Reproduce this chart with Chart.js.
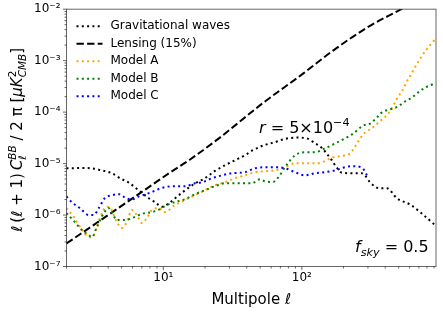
<!DOCTYPE html>
<html>
<head>
<meta charset="utf-8">
<script src="https://cdn.jsdelivr.net/npm/chart.js@4.4.1/dist/chart.umd.min.js"></script>
<style>
    body { margin: 0; background: white; }
    canvas { display: block; }
</style>
</head>
<body>
<canvas id="bbChart" width="443" height="312"></canvas>
<script>
// values (D_ell^BB in muK^2)
const ellGW = [2, 2.6, 3.05, 3.42, 4.25, 4.85, 5.6, 6.66, 7.9, 8.7, 9.8, 11, 12.1, 14.3, 16.9, 20, 23.6, 27.9, 32.9, 38.8, 44, 54, 64, 75, 92, 110, 124, 140, 150, 165, 178, 195, 230, 270, 290, 311, 367, 412, 487, 605, 714, 916];
const dlGW = [8.1e-6, 8.2e-6, 8.1e-6, 7.6e-6, 6.5e-6, 5.2e-6, 4.3e-6, 3.0e-6, 2.1e-6, 1.78e-6, 1.45e-6, 1.7e-6, 2.1e-6, 3.0e-6, 4.1e-6, 5.2e-6, 7.2e-6, 9.3e-6, 1.16e-5, 1.45e-5, 1.8e-5, 2.3e-5, 2.6e-5, 3.0e-5, 3.2e-5, 3.05e-5, 2.5e-5, 2.0e-5, 1.6e-5, 1.15e-5, 8.5e-6, 6.6e-6, 6.5e-6, 6.5e-6, 5.6e-6, 4.3e-6, 3.3e-6, 3.3e-6, 2.1e-6, 1.6e-6, 1.14e-6, 6.4e-7];

const ellLens = [2, 4, 8, 11, 15.6, 25.6, 52, 102, 168, 296, 495, 930];
const dlLens = [2.8e-7, 1.0e-6, 3.6e-6, 6.5e-6, 1.2e-5, 3.2e-5, 1.48e-4, 5.6e-4, 1.57e-3, 4.4e-3, 9.3e-3, 2.3e-2];

const ellA = [2, 2.26, 2.45, 2.67, 2.9, 3.15, 3.48, 3.91, 4.25, 4.47, 4.77, 5.02, 5.45, 5.93, 6.44, 7.0, 7.6, 8.26, 9.29, 10.26, 12.1, 14.3, 16.9, 20, 23.6, 27.9, 32.9, 38.8, 45.9, 54.2, 64, 75.5, 89.3, 105, 129, 168, 189, 223, 251, 277, 327, 367, 412, 448, 487, 530, 575, 625, 680, 740, 802, 887, 916];
const dlA = [1.36e-6, 9.1e-7, 6.4e-7, 4.7e-7, 3.7e-7, 4.1e-7, 8.7e-7, 1.45e-6, 1.25e-6, 8.7e-7, 6.4e-7, 5.6e-7, 7.3e-7, 1.25e-6, 1.0e-6, 7.0e-7, 8.7e-7, 1.25e-6, 1.36e-6, 1.14e-6, 1.56e-6, 1.95e-6, 2.43e-6, 3.04e-6, 3.8e-6, 4.34e-6, 5.2e-6, 5.9e-6, 6.8e-6, 7.1e-6, 7.4e-6, 8.5e-6, 1.01e-5, 1.01e-5, 1.01e-5, 1.33e-5, 1.39e-5, 1.58e-5, 2.5e-5, 3.7e-5, 5.1e-5, 6.7e-5, 8.8e-5, 1.2e-4, 1.85e-4, 2.6e-4, 4.0e-4, 5.9e-4, 8.8e-4, 1.26e-3, 1.7e-3, 2.35e-3, 2.65e-3];

const ellB = [2, 2.3, 2.58, 2.9, 3.05, 3.31, 3.72, 4.04, 4.25, 4.62, 5.27, 5.93, 6.66, 7.36, 8.26, 9.77, 10.3, 12.1, 14.3, 16.9, 20, 23.6, 27.9, 32.9, 38.8, 43.6, 49.9, 54.2, 61.9, 68, 75.5, 89.3, 105, 124, 147, 174, 205, 236, 277, 311, 349, 379, 434, 495, 556, 625, 691, 776, 902, 916];
const dlB = [1.09e-6, 7.3e-7, 5.1e-7, 4.1e-7, 3.7e-7, 5.8e-7, 1.09e-6, 1.36e-6, 1.14e-6, 8.0e-7, 8.0e-7, 8.7e-7, 1.0e-6, 1.09e-6, 1.14e-6, 1.36e-6, 1.5e-6, 1.78e-6, 2.03e-6, 2.54e-6, 3.04e-6, 3.63e-6, 4.15e-6, 4.15e-6, 4.15e-6, 4.15e-6, 4.97e-6, 4.5e-6, 4.4e-6, 5.5e-6, 8.5e-6, 1.45e-5, 1.66e-5, 1.66e-5, 1.98e-5, 2.47e-5, 3.09e-5, 3.86e-5, 5.5e-5, 6.0e-5, 7.9e-5, 9.9e-5, 1.13e-4, 1.29e-4, 1.61e-4, 1.93e-4, 2.41e-4, 3.0e-4, 3.6e-4, 3.7e-4];

const ellC = [2, 2.18, 2.5, 2.9, 3.15, 3.42, 3.78, 4.25, 4.85, 5.27, 5.9, 6.66, 7.36, 8.26, 9.3, 10.3, 12.1, 14.3, 16.9, 19, 22.5, 26.5, 31.3, 38.8, 45.9, 54.2, 64, 75.5, 89.3, 105, 124, 147, 174, 205, 231, 272, 296];
const dlC = [2.3e-6, 1.78e-6, 1.36e-6, 1.0e-6, 1.0e-6, 1.36e-6, 2.13e-6, 2.43e-6, 2.54e-6, 2.2e-6, 2.0e-6, 2.3e-6, 2.5e-6, 2.8e-6, 3.2e-6, 3.5e-6, 3.63e-6, 3.63e-6, 4.15e-6, 4.34e-6, 5.2e-6, 5.9e-6, 6.5e-6, 6.8e-6, 8.1e-6, 8.5e-6, 8.5e-6, 8.1e-6, 6.8e-6, 5.9e-6, 6.5e-6, 6.8e-6, 7.4e-6, 8.5e-6, 8.9e-6, 8.3e-6, 5.9e-6];

const seriesNames = ['Gravitational waves', 'Lensing (15%)', 'Model A', 'Model B', 'Model C'];

const yTickVals = [1e-7, 1e-6, 1e-5, 1e-4, 1e-3, 1e-2];
const yTickLabels = ['10⁻⁷', '10⁻⁶', '10⁻⁵', '10⁻⁴', '10⁻³', '10⁻²'];
const xTickVals = [10, 100];
const xTickLabels = ['10¹', '10²'];

const FONT = '"DejaVu Sans"';
const dotted = [2, 3.3];
const dashed = [7.4, 3.2];

function toPoints(ell, vals) {
    return ell.map((l, i) => ({ x: l, y: vals[i] }));
}

// majors + the 2..9 minors of each decade that fall in [lo, hi]
function logTicks(lo, hi, majors) {
    let ticks = [];
    for (let k = -8; k <= 3; k++) {
        for (let d = 1; d <= 9; d++) {
            let v = d === 1 ? Math.pow(10, k) : d * Math.pow(10, k);
            if (d === 1) {
                const m = majors.find(mv => Math.abs(Math.log10(mv) - k) < 1e-9);
                if (m !== undefined) v = m;
            }
            if (v >= lo * 0.999 && v <= hi * 1.001) ticks.push({ value: v, major: d === 1 });
        }
    }
    return ticks;
}

function lineSet(i, ell, vals, color, dash, order) {
    return {
        label: seriesNames[i],
        data: toPoints(ell, vals),
        borderColor: color,
        backgroundColor: color,
        borderWidth: 2,
        borderDash: dash,
        borderCapStyle: 'butt',
        pointRadius: 0,
        showLine: true,
        cubicInterpolationMode: 'monotone',
        order: order
    };
}

// small mathtext-like writer: sub/superscripts, italics, stacked sub+sup
function writeMath(ctx, parts, x, y, size, draw) {
    let cx = x, stackW = 0;
    parts.forEach(p => {
        const fs = p.pos ? size * 0.7 : size;
        ctx.font = (p.it ? 'italic ' : '') + fs + 'px ' + FONT;
        const w = ctx.measureText(p.t).width;
        const dy = p.pos === 1 ? -size * 0.42 : (p.pos === -1 ? size * 0.24 : 0);
        if (draw) ctx.fillText(p.t, cx, y + dy);
        if (p.stack) { stackW = w; return; }
        cx += stackW ? Math.max(w, stackW) : w;
        stackW = 0;
    });
    return cx - x;
}

const yTitle = [
    { t: 'ℓ', it: 1 }, { t: '\u2009(' }, { t: 'ℓ', it: 1 }, { t: ' + 1)\u2009' },
    { t: 'C', it: 1 }, { t: 'BB', it: 1, pos: 1, stack: 1 }, { t: 'ℓ', it: 1, pos: -1 },
    { t: ' / 2 π [' }, { t: 'μK', it: 1 }, { t: '2', pos: 1, stack: 1 }, { t: 'CMB', it: 1, pos: -1 }, { t: ']' }
];
const rLabel = [{ t: 'r', it: 1 }, { t: ' = 5×10' }, { t: '−4', pos: 1 }];
const fskyLabel = [{ t: 'f', it: 1 }, { t: 'sky', it: 1, pos: -1 }, { t: ' = 0.5' }];

const axesPlugin = {
    id: 'axesPlugin',
    afterDraw(chart) {
        const ctx = chart.ctx;
        const a = chart.chartArea;
        ctx.save();
        ctx.strokeStyle = 'rgba(0,0,0,0.6)';
        ctx.lineWidth = 1;
        ctx.strokeRect(a.left, a.top, a.right - a.left, a.bottom - a.top);
        // outward tick marks, minor ones shorter
        const xs = chart.scales.x, ys = chart.scales.y;
        ctx.beginPath();
        xs.ticks.forEach(t => {
            const px = xs.getPixelForValue(t.value);
            ctx.moveTo(px, a.bottom);
            ctx.lineTo(px, a.bottom + (t.major ? 3.5 : 2));
        });
        ys.ticks.forEach(t => {
            const py = ys.getPixelForValue(t.value);
            ctx.moveTo(a.left, py);
            ctx.lineTo(a.left - (t.major ? 3.5 : 2), py);
        });
        ctx.stroke();
        ctx.restore();
    }
};

const textPlugin = {
    id: 'textPlugin',
    afterDraw(chart) {
        const ctx = chart.ctx;
        const a = chart.chartArea;
        ctx.save();
        ctx.fillStyle = 'black';
        ctx.textBaseline = 'alphabetic';

        // legend in upper left of the axes
        chart.data.datasets.forEach((ds, i) => {
            const yy = a.top + 17 + i * 17.5;
            ctx.beginPath();
            ctx.setLineDash(ds.borderDash);
            ctx.lineWidth = 2;
            ctx.strokeStyle = ds.borderColor;
            ctx.moveTo(a.left + 10, yy);
            ctx.lineTo(a.left + 36, yy);
            ctx.stroke();
            ctx.setLineDash([]);
            ctx.font = '12px ' + FONT;
            ctx.textBaseline = 'middle';
            ctx.fillText(ds.label, a.left + 44, yy);
        });
        ctx.textBaseline = 'alphabetic';

        // x title
        ctx.font = '15px ' + FONT;
        ctx.textAlign = 'center';
        ctx.fillText('Multipole ℓ', (a.left + a.right) / 2, 304);
        ctx.textAlign = 'left';

        // y title, rotated
        ctx.save();
        ctx.translate(22, (a.top + a.bottom) / 2 + 2);
        ctx.rotate(-Math.PI / 2);
        const w = writeMath(ctx, yTitle, 0, 0, 15, false);
        writeMath(ctx, yTitle, -w / 2, 0, 15, true);
        ctx.restore();

        // annotations
        writeMath(ctx, rLabel, 259, 133, 16, true);
        writeMath(ctx, fskyLabel, 355, 252, 16, true);
        ctx.restore();
    }
};

function drawSpectra(el) {
    const config = {
        type: 'scatter',
        data: {
            datasets: [
                lineSet(0, ellGW, dlGW, 'black', dotted, 4),
                lineSet(1, ellLens, dlLens, 'black', dashed, 3),
                lineSet(2, ellA, dlA, 'orange', dotted, 2),
                lineSet(3, ellB, dlB, 'green', dotted, 1),
                lineSet(4, ellC, dlC, 'blue', dotted, 0)
            ]
        },
        options: {
            responsive: false,
            animation: false,
            devicePixelRatio: 1,
            layout: { padding: { left: 0, top: 9, right: 7, bottom: 0 } },
            scales: {
                x: {
                    type: 'logarithmic',
                    min: 2,
                    max: 930,
                    afterFit: (s) => { s.height = 45.5; },
                    afterBuildTicks: (s) => { s.ticks = logTicks(2, 930, xTickVals); },
                    grid: { display: false, drawTicks: true, tickLength: 4 },
                    border: { display: false },
                    ticks: {
                        autoSkip: false,
                        maxRotation: 0,
                        padding: 0,
                        color: 'black',
                        font: { family: FONT, size: 12 },
                        callback: function (value) {
                            const i = xTickVals.indexOf(value);
                            return i >= 0 ? xTickLabels[i] : '';
                        }
                    }
                },
                y: {
                    type: 'logarithmic',
                    min: 1e-7,
                    max: 1e-2,
                    afterFit: (s) => { s.width = 66.5; },
                    afterBuildTicks: (s) => { s.ticks = logTicks(1e-7, 1e-2, yTickVals); },
                    grid: { display: false, drawTicks: true, tickLength: 4 },
                    border: { display: false },
                    ticks: {
                        autoSkip: false,
                        padding: 2,
                        color: 'black',
                        font: { family: FONT, size: 12 },
                        callback: function (value) {
                            const i = yTickVals.indexOf(value);
                            return i >= 0 ? yTickLabels[i] : '';
                        }
                    }
                }
            },
            plugins: {
                legend: { display: false },
                tooltip: { enabled: false }
            }
        },
        plugins: [axesPlugin, textPlugin]
    };

    const chart = new Chart(el, config);
}

drawSpectra(document.getElementById('bbChart'));
</script>
</body>
</html>
